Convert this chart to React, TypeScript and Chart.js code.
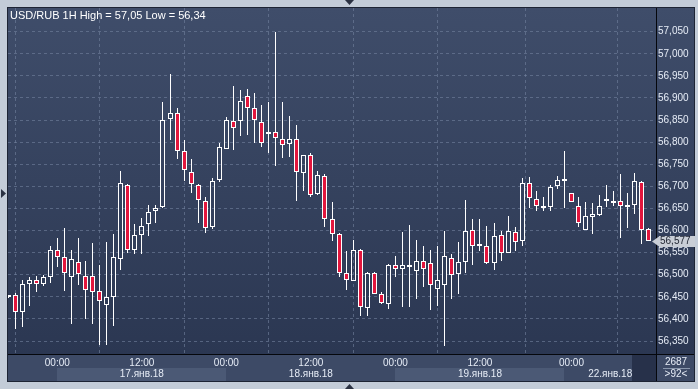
import React, { useEffect, useRef } from 'react';
import { Chart, registerables } from 'chart.js';
Chart.register(...registerables);

// ---- data (hourly candles, index 0..91) ----
const opens = [
  56.450, 56.453, 56.416, 56.478, 56.487, 56.480, 56.495, 56.557, 56.539, 56.495,
  56.528, 56.498, 56.496, 56.463, 56.432, 56.449, 56.535, 56.704, 56.557, 56.591,
  56.614, 56.644, 56.654, 56.852, 56.867, 56.779, 56.733, 56.704, 56.666, 56.607,
  56.715, 56.785, 56.848, 56.848, 56.905, 56.878, 56.845, 56.819, 56.823, 56.808,
  56.796, 56.808, 56.730, 56.771, 56.683, 56.724, 56.627, 56.593, 56.505, 56.486,
  56.555, 56.425, 56.503, 56.457, 56.433, 56.523, 56.512, 56.518, 56.509, 56.532,
  56.527, 56.468, 56.477, 56.538, 56.502, 56.529, 56.602, 56.565, 56.565, 56.527,
  56.590, 56.550, 56.597, 56.577, 56.708, 56.672, 56.656, 56.653, 56.701, 56.717,
  56.685, 56.656, 56.602, 56.631, 56.635, 56.667, 56.662, 56.667, 56.653, 56.658,
  56.710, 56.604,
];
const highs = [
  56.455, 56.459, 56.488, 56.494, 56.497, 56.499, 56.566, 56.582, 56.605, 56.557,
  56.584, 56.531, 56.571, 56.522, 56.574, 56.593, 56.734, 56.706, 56.614, 56.629,
  56.657, 56.657, 56.890, 56.955, 56.878, 56.806, 56.763, 56.705, 56.675, 56.718,
  56.797, 56.858, 56.928, 56.919, 56.921, 56.912, 56.883, 56.890, 57.050, 56.890,
  56.860, 56.838, 56.772, 56.776, 56.735, 56.729, 56.664, 56.594, 56.553, 56.578,
  56.558, 56.507, 56.507, 56.462, 56.524, 56.542, 56.597, 56.613, 56.579, 56.564,
  56.555, 56.566, 56.600, 56.547, 56.573, 56.668, 56.627, 56.625, 56.611, 56.616,
  56.600, 56.634, 56.609, 56.720, 56.722, 56.690, 56.677, 56.703, 56.724, 56.781,
  56.686, 56.676, 56.665, 56.663, 56.681, 56.702, 56.690, 56.727, 56.686, 56.731,
  56.713, 56.606,
];
const lows = [
  56.448, 56.378, 56.382, 56.430, 56.461, 56.474, 56.482, 56.518, 56.464, 56.388,
  56.477, 56.400, 56.389, 56.340, 56.342, 56.385, 56.511, 56.550, 56.547, 56.547,
  56.588, 56.617, 56.651, 56.804, 56.763, 56.712, 56.685, 56.617, 56.595, 56.604,
  56.710, 56.784, 56.782, 56.814, 56.816, 56.798, 56.789, 56.775, 56.746, 56.764,
  56.766, 56.667, 56.689, 56.676, 56.680, 56.608, 56.576, 56.494, 56.465, 56.485,
  56.407, 56.407, 56.456, 56.433, 56.423, 56.494, 56.427, 56.427, 56.445, 56.472,
  56.421, 56.429, 56.339, 56.445, 56.456, 56.505, 56.522, 56.553, 56.525, 56.510,
  56.532, 56.549, 56.553, 56.565, 56.650, 56.644, 56.644, 56.644, 56.695, 56.650,
  56.664, 56.608, 56.601, 56.593, 56.633, 56.654, 56.656, 56.583, 56.605, 56.638,
  56.569, 56.576,
];
const closes = [
  56.453, 56.415, 56.478, 56.487, 56.478, 56.494, 56.557, 56.539, 56.505, 56.536,
  56.501, 56.465, 56.460, 56.440, 56.449, 56.539, 56.708, 56.557, 56.591, 56.611,
  56.643, 56.652, 56.851, 56.865, 56.780, 56.736, 56.706, 56.668, 56.605, 56.712,
  56.788, 56.851, 56.832, 56.893, 56.878, 56.851, 56.799, 56.823, 56.810, 56.794,
  56.808, 56.733, 56.771, 56.680, 56.726, 56.627, 56.593, 56.504, 56.487, 56.557,
  56.427, 56.503, 56.457, 56.435, 56.523, 56.514, 56.523, 56.521, 56.530, 56.514,
  56.476, 56.487, 56.543, 56.500, 56.529, 56.599, 56.565, 56.567, 56.527, 56.588,
  56.550, 56.599, 56.574, 56.708, 56.674, 56.656, 56.651, 56.699, 56.715, 56.712,
  56.665, 56.617, 56.633, 56.638, 56.656, 56.670, 56.664, 56.656, 56.655, 56.712,
  56.602, 56.577,
];

const timeTickIdx = [7, 19, 31, 43, 55, 67, 80];
const timeTickLabels = ['00:00', '12:00', '00:00', '12:00', '00:00', '12:00', '00:00'];
const yTickValues = [56.35, 56.4, 56.45, 56.5, 56.55, 56.6, 56.65, 56.7, 56.75, 56.8, 56.85, 56.9, 56.95, 57.0, 57.05];
const dayLabels = ['17.янв.18', '18.янв.18', '19.янв.18', '22.янв.18'];
const dayStart = [7, 31, 55, 79];
const dayEnd = [31, 55, 79, 92];
const dayShaded = [true, false, true, false];
const headerText = 'USD/RUB 1H High = 57,05 Low = 56,34';
const barsCount = '2687';
const barsVisible = '>92<';

const FONT = "'Liberation Sans', Arial, sans-serif";
const RED = '#e2163d';
const GRID = 'rgba(115,130,158,0.6)';

const fmt = (v: number) => v.toFixed(3).replace('.', ',');

const snapPlugin = {
  id: 'snap',
  afterDatasetsUpdate(chart: any) {
    chart.data.datasets.forEach((_: any, di: number) => {
      const meta = chart.getDatasetMeta(di);
      meta.data.forEach((el: any) => {
        el.x = Math.floor(el.x) + 0.5;
        el.y = Math.round(el.y);
        el.base = Math.round(el.base);
      });
    });
  },
};

const decorPlugin = {
  id: 'decor',
  beforeDraw(chart: any) {
    const { ctx, chartArea: a, width, height } = chart;
    const xs = chart.scales.x;
    ctx.save();
    ctx.fillStyle = '#c3ccd8';
    ctx.fillRect(0, 0, width, height);
    const g = ctx.createLinearGradient(0, a.top, 0, a.bottom);
    g.addColorStop(0, '#3f4d6a');
    g.addColorStop(1, '#2b3752');
    ctx.fillStyle = g;
    ctx.fillRect(a.left, a.top, 694 - a.left, a.bottom - a.top);
    ctx.fillStyle = '#3d4a66';
    ctx.fillRect(a.left, a.bottom, 694 - a.left, 381 - a.bottom);
    for (let i = 0; i < dayLabels.length; i++) {
      if (!dayShaded[i]) continue;
      const x1 = Math.max(a.left, Math.round(xs.getPixelForValue(dayStart[i])));
      const x2 = Math.min(a.right, Math.round(xs.getPixelForValue(dayEnd[i])));
      ctx.fillStyle = '#4b5975';
      ctx.fillRect(x1, 368, x2 - x1, 13);
    }
    ctx.restore();
  },
  afterDraw(chart: any) {
    const { ctx, chartArea: a } = chart;
    const xs = chart.scales.x;
    const ys = chart.scales.y;
    ctx.save();
    ctx.font = `10px ${FONT}`;
    ctx.textAlign = 'center';
    ctx.textBaseline = 'middle';
    ctx.fillStyle = '#e6ecf6';
    for (let i = 0; i < dayLabels.length; i++) {
      const x1 = Math.max(a.left, xs.getPixelForValue(dayStart[i]));
      const x2 = Math.min(a.right, xs.getPixelForValue(dayEnd[i]));
      ctx.fillText(dayLabels[i], (x1 + x2) / 2, 374.5);
    }
    ctx.fillStyle = '#27314a';
    ctx.fillRect(a.right - 24, a.bottom + 1, 24, 381 - a.bottom - 1);
    ctx.strokeStyle = '#05070c';
    ctx.lineWidth = 1;
    ctx.beginPath();
    ctx.moveTo(a.right + 0.5, a.top);
    ctx.lineTo(a.right + 0.5, 381);
    ctx.moveTo(a.left, a.bottom + 0.5);
    ctx.lineTo(694, a.bottom + 0.5);
    ctx.stroke();
    ctx.strokeStyle = '#1d2434';
    ctx.strokeRect(7.5, 7.5, 687, 374);
    ctx.fillStyle = '#3d4a66';
    ctx.fillRect(a.right + 1, a.bottom + 1, 694 - a.right - 1, 381 - a.bottom - 1);
    ctx.fillStyle = '#e6ecf6';
    ctx.textAlign = 'center';
    ctx.fillText(barsCount, 676, 362);
    ctx.fillText(barsVisible, 676, 374.5);
    ctx.strokeStyle = '#8a97ad';
    ctx.beginPath();
    ctx.moveTo(663, 368.5);
    ctx.lineTo(690, 368.5);
    ctx.stroke();
    const last = closes[closes.length - 1];
    const py = Math.round(ys.getPixelForValue(last));
    ctx.fillStyle = '#c9ced6';
    ctx.beginPath();
    ctx.moveTo(652, py + 0.5);
    ctx.lineTo(659, py - 4.5);
    ctx.lineTo(659, py + 5.5);
    ctx.closePath();
    ctx.fill();
    ctx.fillRect(659, py - 5, 36, 11);
    ctx.fillStyle = '#1e2330';
    ctx.textAlign = 'left';
    ctx.fillText(fmt(last), 660, py + 0.5);
    ctx.fillStyle = '#2a3142';
    ctx.beginPath();
    ctx.moveTo(345, 0); ctx.lineTo(354, 0); ctx.lineTo(349.5, 5); ctx.closePath(); ctx.fill();
    ctx.beginPath();
    ctx.moveTo(345, 389); ctx.lineTo(354, 389); ctx.lineTo(349.5, 384); ctx.closePath(); ctx.fill();
    ctx.beginPath();
    ctx.moveTo(1, 189); ctx.lineTo(1, 198); ctx.lineTo(6, 193.5); ctx.closePath(); ctx.fill();
    ctx.restore();
  },
};

export default function App() {
  const ref = useRef<HTMLCanvasElement>(null);
  useEffect(() => {
    if (!ref.current) return;
    const isDown = closes.map((c, i) => c < opens[i]);
    const bodies = closes.map((c, i) => ({ x: i, y: [opens[i], c] }));
    const upper = closes.map((c, i) => ({ x: i, y: [Math.max(opens[i], c), highs[i]] }));
    const lower = closes.map((c, i) => ({ x: i, y: [lows[i], Math.min(opens[i], c)] }));
    const chart = new Chart(ref.current, {
      type: 'bar',
      data: {
        datasets: [
          {
            data: bodies as any,
            barThickness: 5,
            minBarLength: 2,
            grouped: false,
            borderSkipped: false,
            inflateAmount: 0,
            borderWidth: 1,
            borderColor: '#ffffff',
            backgroundColor: isDown.map((d) => (d ? RED : 'rgba(0,0,0,0)')),
          } as any,
          {
            data: upper as any,
            barThickness: 1,
            grouped: false,
            borderSkipped: false,
            inflateAmount: 0,
            borderWidth: 0,
            backgroundColor: '#ffffff',
          } as any,
          {
            data: lower as any,
            barThickness: 1,
            grouped: false,
            borderSkipped: false,
            inflateAmount: 0,
            borderWidth: 0,
            backgroundColor: '#ffffff',
          } as any,
        ],
      },
      options: {
        animation: false,
        responsive: false,
        maintainAspectRatio: false,
        devicePixelRatio: 1,
        layout: { padding: { left: 8, top: 8, right: 4, bottom: 8 } },
        plugins: { legend: { display: false }, tooltip: { enabled: false }, title: { display: false } },
        scales: {
          x: {
            type: 'linear',
            min: 0,
            max: 92,
            offset: false,
            afterBuildTicks: (s: any) => {
              s.ticks = timeTickIdx.map((v) => ({ value: v }));
            },
            afterFit: (s: any) => {
              s.height = 27;
            },
            ticks: {
              autoSkip: false,
              maxRotation: 0,
              padding: 3,
              color: '#e6ecf6',
              font: { family: FONT, size: 10 },
              callback: (v: any) => timeTickLabels[timeTickIdx.indexOf(v)] ?? '',
            },
            grid: { color: GRID, drawTicks: false, lineWidth: 1 },
            border: { display: true, color: '#05070c', dash: [3, 3] },
          },
          y: {
            position: 'right',
            min: 56.3206,
            max: 57.1036,
            afterBuildTicks: (s: any) => {
              s.ticks = yTickValues.map((v) => ({ value: v }));
            },
            afterFit: (s: any) => {
              s.width = 38;
            },
            ticks: {
              padding: 2,
              color: '#e6ecf6',
              font: { family: FONT, size: 10 },
              callback: (v: any) => fmt(Number(v)),
            },
            grid: { color: GRID, drawTicks: false, lineWidth: 1 },
            border: { display: true, color: '#05070c', dash: [3, 3] },
          },
        },
      } as any,
      plugins: [snapPlugin, decorPlugin],
    });
    return () => chart.destroy();
  }, []);

  return (
    <div style={{ position: 'fixed', left: 0, top: 0, width: 698, height: 389 }}>
      <canvas ref={ref} width={698} height={389} style={{ display: 'block', width: 698, height: 389 }} />
      <div
        style={{
          position: 'absolute',
          left: 10,
          top: 8,
          font: `11px ${FONT}`,
          lineHeight: '14px',
          color: '#ffffff',
          whiteSpace: 'nowrap',
        }}
      >
        {headerText}
      </div>
    </div>
  );
}
